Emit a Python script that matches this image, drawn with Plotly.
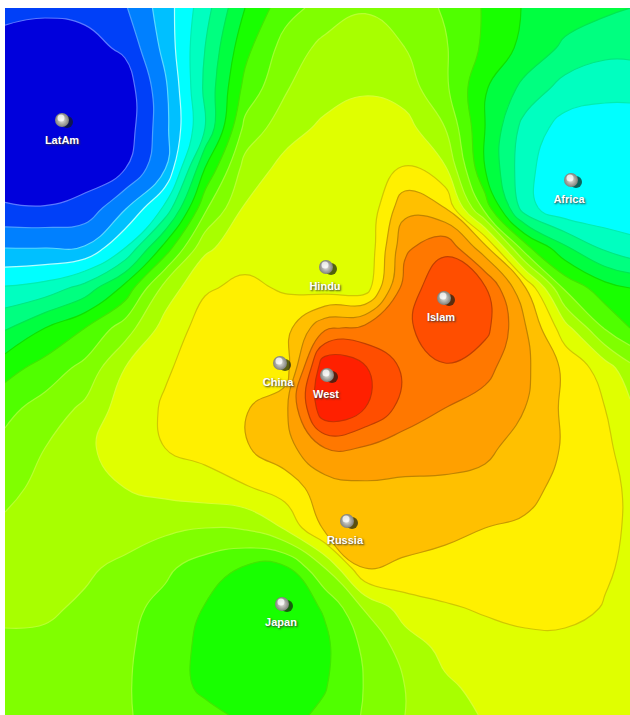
import plotly.graph_objects as go

x_cols = [5, 45, 85, 125, 165, 205, 245, 285, 325, 365, 405, 445, 485, 525, 565, 605, 630]
y_rows = [8, 48, 88, 128, 168, 208, 248, 288, 328, 368, 408, 448, 488, 528, 568, 608, 648, 688, 715]

r008 = [1.3, 1.2, 1.3, 1.9, 3.5, 5.6, 8, 9.6, 10.4, 10.9, 10.5, 9.9, 8.9, 7.9, 7.5, 7.2, 7]
r048 = [0.6, 0.4, 0.6, 1.2, 3.3, 6, 8.7, 10.4, 11.3, 11.6, 11, 10.1, 8.8, 7.7, 6.8, 6.3, 6.3]
r088 = [0.3, 0.1, 0.2, 0.4, 2.8, 6.2, 9.3, 10.9, 11.6, 11.9, 11.5, 10.2, 8.1, 6.7, 5.6, 5.3, 5.3]
r128 = [0.2, 0, 0.2, 0.4, 2.7, 6, 10.3, 11.6, 12.2, 12.4, 12.4, 11, 8, 5.6, 4.6, 4.5, 4.5]
r168 = [0.4, 0.2, 0.5, 0.95, 2.9, 8, 11.4, 12.3, 12.5, 12.7, 13.05, 12.1, 8, 5.3, 4.2, 4.2, 4.4]
r208 = [1.1, 1.05, 1.3, 2.9, 5.2, 9.8, 12.1, 12.5, 12.6, 12.1, 14.7, 14, 9.6, 5.4, 4.2, 4.2, 4.4]
r248 = [3, 3, 3.1, 5, 8.4, 11.8, 12.6, 12.7, 12.6, 12.05, 15.8, 16.8, 14.4, 9.4, 7.2, 5.8, 5.3]
r288 = [5.1, 5.4, 6.4, 8.3, 11.4, 12.9, 13.2, 12.9, 12.5, 12.4, 16.5, 17.7, 17.1, 14.1, 9.8, 8.4, 8]
r328 = [6.9, 8, 9, 10.5, 12.4, 13.4, 13.5, 13.6, 15.8, 16.3, 16.8, 17.7, 17.3, 15.1, 12.4, 9.9, 9]
r368 = [8.6, 9.4, 10.3, 12, 12.9, 13.4, 13.6, 13.4, 18.9, 18.1, 16.8, 16.9, 16.3, 15.2, 13.8, 12.5, 11.3]
r408 = [9.7, 10.4, 11.2, 12.5, 13.1, 13.5, 13.9, 14.7, 18.9, 18, 16.6, 16, 15.6, 15, 13.8, 13, 12.2]
r448 = [10.3, 11, 11.8, 12.5, 13, 13.3, 13.9, 14.6, 16, 15.9, 15.5, 15.4, 15.2, 14.6, 13.9, 13.2, 12.6]
r488 = [10.7, 11.3, 11.8, 12, 12.3, 12.6, 12.9, 13.5, 14.5, 14.8, 14.8, 14.8, 14.7, 14.4, 13.6, 13.2, 12.9]
r528 = [11.2, 11.5, 11.7, 11.6, 11.2, 11, 11.1, 12.1, 14.2, 14.8, 14.5, 14.3, 14, 13.8, 13.4, 13.2, 12.9]
r568 = [11.3, 11.4, 11.2, 10.7, 10.2, 9.5, 8.9, 8.8, 11, 14, 13.8, 13.6, 13.5, 13.4, 13.3, 13.1, 12.85]
r608 = [11.2, 11.2, 10.8, 10.3, 9.7, 8.95, 8.6, 8.4, 9.1, 11.1, 12.5, 12.9, 13.1, 13.3, 13.3, 12.95, 12.5]
r648 = [10.8, 10.7, 10.5, 10.2, 9.4, 8.8, 8.4, 8.4, 8.8, 10.2, 11.4, 12.3, 12.6, 12.7, 12.7, 12.5, 12.3]
r688 = [10.5, 10.4, 10.3, 10.1, 9.5, 8.8, 8.5, 8.5, 8.95, 10.05, 11, 11.8, 12.3, 12.4, 12.4, 12.3, 12.2]
r715 = [10.4, 10.3, 10.2, 10.1, 9.6, 9.3, 8.8, 8.7, 9.2, 10.1, 11, 11.5, 12.1, 12.3, 12.3, 12.2, 12.1]
z_rows = [r008, r048, r088, r128, r168, r208, r248, r288, r328, r368, r408, r448, r488, r528, r568, r608, r648, r688, r715]

band_colors = ["#0000dc", "#0040f8", "#0080ff", "#00c0ff", "#00ffff", "#00ffc0", "#00ff80", "#00ff40",
               "#18ff00", "#50ff00", "#80ff00", "#a8ff00", "#e0ff00", "#fff000", "#ffc000", "#ffa000",
               "#ff7800", "#ff4e00", "#ff2000"]
line_colors = ["#5a78ff", "#4aa0ff", "#5cd8ff", "#b0ffff", "#00eeb0", "#00e880", "#00e850", "#10e000",
               "#40e800", "#a0ff30", "#b8ff30", "#d8ff30", "#d0c800", "#c89a00", "#c08400", "#c06400",
               "#c04000", "#c83000"]

names = ["LatAm", "Africa", "Hindu", "Islam", "China", "West", "Russia", "Japan"]
ball_x = [62, 571, 326, 444, 280, 327, 347, 282]
ball_y = [120, 180, 267, 298, 363, 375, 521, 604]
label_x = [62, 569, 325, 441, 278, 326, 345, 281]
label_y = [141, 200, 287, 318, 383, 395, 541, 623]

n = len(band_colors)
scale = [[i / (n - 1), c] for i, c in enumerate(band_colors)]
m = len(line_colors)
line_scale = [[i / (m - 1), c] for i, c in enumerate(line_colors)]

fig = go.Figure()
fig.add_trace(go.Contour(
    x=x_cols, y=y_rows, z=z_rows, zmin=0, zmax=19, colorscale=scale, showscale=False, hoverinfo="skip",
    autocontour=False,
    contours=dict(start=1, end=18, size=1, coloring="fill", showlines=False),
    line=dict(width=0, smoothing=1.3),
))
fig.add_trace(go.Contour(
    x=x_cols, y=y_rows, z=z_rows, colorscale=line_scale, showscale=False, hoverinfo="skip",
    autocontour=False,
    contours=dict(start=1, end=18, size=1, coloring="lines"),
    line=dict(width=1.2, smoothing=1.3),
))
fig.add_trace(go.Scatter(
    x=[v + 5 for v in ball_x], y=[v + 2 for v in ball_y], mode="markers", hoverinfo="skip",
    marker=dict(size=12, color="rgba(20,30,20,0.7)", line=dict(width=0)),
))
fig.add_trace(go.Scatter(
    x=ball_x, y=ball_y, mode="markers", hoverinfo="skip",
    marker=dict(size=14, color="#80807a", line=dict(width=0),
                gradient=dict(type="radial", color="#e8e8e2")),
))
fig.add_trace(go.Scatter(
    x=[v - 1 for v in ball_x], y=[v - 2 for v in ball_y], mode="markers", hoverinfo="skip",
    marker=dict(size=7, color="rgba(255,255,255,0.75)", line=dict(width=0)),
))
fig.add_trace(go.Scatter(
    x=label_x, y=label_y, mode="text", text=names, hoverinfo="skip",
    textfont=dict(family="Liberation Sans", size=11, weight="bold", color="#ffffff", shadow="1px 1px 2px #333"),
))
fig.update_xaxes(visible=False, range=[5, 630])
fig.update_yaxes(visible=False, range=[715, 8])
fig.update_layout(width=630, height=715, margin=dict(l=5, r=0, t=8, b=0),
                  paper_bgcolor="white", plot_bgcolor="white", showlegend=False)
fig.write_html("out.html", post_script="document.body.style.margin='0';", config={"displayModeBar": False})
